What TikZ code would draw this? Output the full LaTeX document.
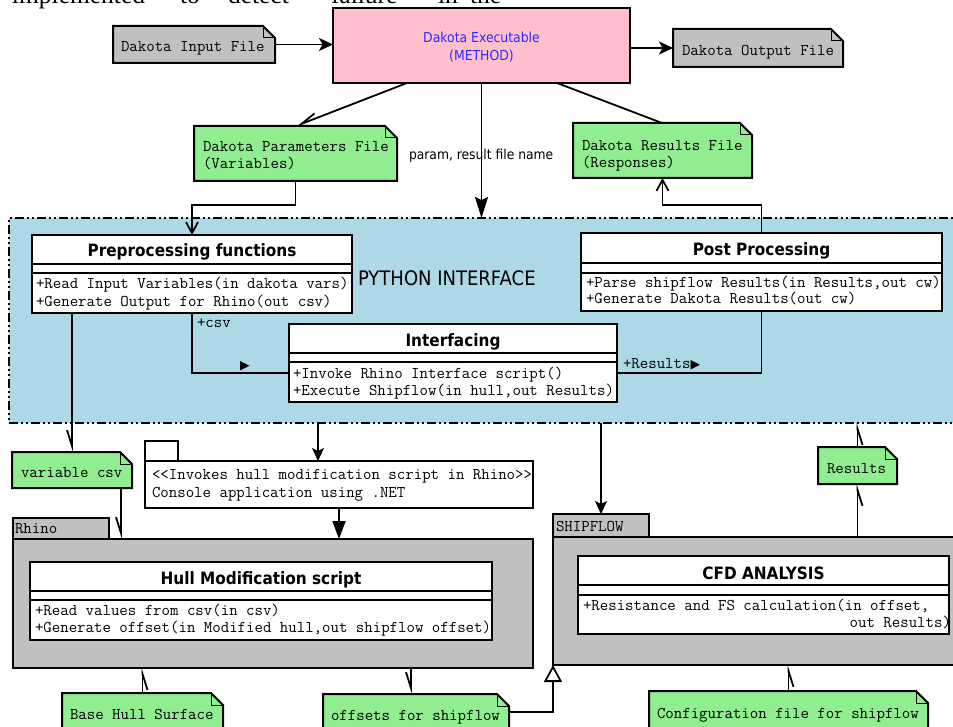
\documentclass[tikz,border=0pt]{standalone}
\usepackage{fontspec}
\usetikzlibrary{arrows.meta}
\newfontfamily\sansf{DejaVu Sans}[FakeStretch=0.9]
\newfontfamily\symf{DejaVu Sans}
\newfontfamily\serf{Liberation Serif}
\definecolor{pinkx}{HTML}{FFC0CB}
\definecolor{grayx}{HTML}{C0C0C0}
\definecolor{greenx}{HTML}{90EE90}
\definecolor{bluex}{HTML}{ADD8E6}
\definecolor{textblue}{HTML}{2B2BFF}
\tikzset{
 every node/.style={inner sep=0pt,outer sep=0pt},
 box/.style={draw=black,line width=2pt},
 cls/.style={box,fill=white},
 notebody/.style={fill=#1,draw=none},
 mono/.style={font=\ttfamily\fontsize{16.4}{19}\selectfont,anchor=base west},
 hdr/.style={font=\sansf\bfseries\fontsize{17}{20}\selectfont,anchor=base},
 serifw/.style={font=\serf\fontsize{25.5}{30}\selectfont,anchor=base west},
 conn/.style={draw=black,line width=1.8pt},
 solidar/.style={-{Stealth[length=14pt,width=13pt,inset=3.5pt]}},
 bigar/.style={-{Stealth[length=21pt,width=13pt,inset=3pt]}},
 smallar/.style={-{Stealth[length=13pt,width=12pt,inset=3pt]}},
 triar/.style={-{Triangle[length=18pt,width=13pt]}},
 openv/.style={-{Straight Barb[length=11pt,width=12pt]}},
 harp/.style={-{Straight Barb[harpoon,swap,length=16pt,width=10pt]}},
 inher/.style={-{Triangle[open,fill=white,length=17pt,width=18pt]}},
}
\newcommand\notefold[1]{%
 \fill[white] ([xshift=-12pt]#1.north east) -- (#1.north east) -- ([yshift=-12pt]#1.north east) -- cycle;
 \draw[line width=2pt] (#1.north west) -- ([xshift=-12pt]#1.north east) -- ([yshift=-12pt]#1.north east) -- (#1.south east) -- (#1.south west) -- cycle;
 \draw[line width=1pt] ([xshift=-12pt]#1.north east) -- ([xshift=-12pt,yshift=-12pt]#1.north east) -- ([yshift=-12pt]#1.north east);}
\begin{document}
\begin{tikzpicture}[x=1pt,y=-1pt,line join=miter]
\useasboundingbox (0,0) rectangle (953,727);
\clip (0,0) rectangle (953,727);
% cropped text line at the top
\node[serifw] (tl1) at (12,4) {implemented};
\node[serifw] (tl2) at (180,4) {to};
\node[serifw] (tl3) at (228,4) {detect};
\node[serifw] (tl4) at (331,4) {failure};
\node[serifw] (tl5) at (438,4) {in};
\node[serifw] (tl6) at (470,4) {the};

% python interface
\node[draw=black,line width=2pt,dash pattern=on 9pt off 3pt on 2pt off 3pt on 2pt off 3pt,fill=bluex,minimum width=961pt,minimum height=205pt] (py) at (489.5,320.5) {};
\node[font=\sansf\fontsize{20}{24}\selectfont,anchor=base west] (py-t) at (358,286) {PYTHON INTERFACE};

% dakota executable
\node[box,fill=pinkx,minimum width=297pt,minimum height=75pt] (exec) at (481.5,45.5) {};
\node[font=\sansf\fontsize{13.8}{16}\selectfont,text=textblue,anchor=base] (exec-t1) at (481.5,43) {Dakota Executable};
\node[font=\sansf\fontsize{13.8}{16}\selectfont,text=textblue,anchor=base] (exec-t2) at (481.5,61) {(METHOD)};

% notes at the top
\node[notebody=grayx,minimum width=162pt,minimum height=37pt] (inp) at (194,44.5) {}; \notefold{inp}
\node[mono] (inp-t) at (121,52) {Dakota Input File};
\node[notebody=grayx,minimum width=170pt,minimum height=38pt] (outp) at (758,48) {}; \notefold{outp}
\node[mono] (outp-t) at (682,56) {Dakota Output File};
\node[notebody=greenx,minimum width=203pt,minimum height=55pt] (par) at (295.5,153.5) {}; \notefold{par}
\node[mono] (par-t1) at (203,152) {Dakota Parameters File};
\node[mono] (par-t2) at (203,169) {(Variables)};
\node[notebody=greenx,minimum width=179pt,minimum height=55pt] (res) at (662.5,150.5) {}; \notefold{res}
\node[mono] (res-t1) at (582,150.5) {Dakota Results File};
\node[mono] (res-t2) at (582,167.5) {(Responses)};
\node[font=\sansf\fontsize{13.7}{16}\selectfont,anchor=base west] (plabel) at (409,160) {param, result file name};

% preprocessing class
\node[cls,minimum width=320pt,minimum height=29pt] (pp) at (192,249.5) {};
\node[cls,minimum width=320pt,minimum height=9pt] (ppa) at (192,268.5) {};
\node[cls,minimum width=320pt,minimum height=40pt] (ppm) at (192,293) {};
\node[hdr] (pp-t) at (192,257) {Preprocessing functions};
\node[mono] (ppm-t1) at (36,289) {+Read Input Variables(in dakota vars)};
\node[mono] (ppm-t2) at (36,306) {+Generate Output for Rhino(out csv)};

% post processing class
\node[cls,minimum width=361pt,minimum height=30pt] (post) at (761.5,248) {};
\node[cls,minimum width=361pt,minimum height=10pt] (posta) at (761.5,268) {};
\node[cls,minimum width=361pt,minimum height=38pt] (postm) at (761.5,292) {};
\node[hdr] (post-t) at (761.5,255.5) {Post Processing};
\node[mono] (postm-t1) at (586,287.5) {+Parse shipflow Results(in Results,out cw)};
\node[mono] (postm-t2) at (586,304) {+Generate Dakota Results(out cw)};

% interfacing class
\node[cls,minimum width=328pt,minimum height=29pt] (ifc) at (453,338.5) {};
\node[cls,minimum width=328pt,minimum height=9pt] (ifca) at (453,357.5) {};
\node[cls,minimum width=328pt,minimum height=40pt] (ifcm) at (453,382) {};
\node[hdr] (ifc-t) at (453,346.5) {Interfacing};
\node[mono] (ifcm-t1) at (293,378) {+Invoke Rhino Interface script()};
\node[mono] (ifcm-t2) at (293,395) {+Execute Shipflow(in hull,out Results)};

% variable csv note
\node[notebody=greenx,minimum width=120pt,minimum height=36pt] (var) at (72,470) {}; \notefold{var}
\node[mono] (var-t) at (21,477) {variable csv};

% invokes note (package-like)
\node[cls,minimum width=33pt,minimum height=20pt] (invtab) at (161.5,451) {};
\node[cls,minimum width=388pt,minimum height=47pt] (inv) at (339,484.5) {};
\node[mono] (inv-t1) at (152,479) {<<Invokes hull modification script in Rhino>>};
\node[mono] (inv-t2) at (152,497) {Console application using .NET};

% Rhino package
\node[box,fill=grayx,minimum width=96pt,minimum height=21pt] (rhtab) at (61,528.5) {};
\node[box,fill=grayx,minimum width=520pt,minimum height=129pt] (rh) at (273,603.5) {};
\node[mono] (rhtab-t) at (15,533) {Rhino};
\node[cls,minimum width=462pt,minimum height=29pt] (hull) at (261,576.5) {};
\node[cls,minimum width=462pt,minimum height=9pt] (hulla) at (261,595.5) {};
\node[cls,minimum width=462pt,minimum height=40pt] (hullm) at (261,620) {};
\node[hdr] (hull-t) at (261,584) {Hull Modification script};
\node[mono] (hullm-t1) at (35,615) {+Read values from csv(in csv)};
\node[mono] (hullm-t2) at (35,632) {+Generate offset(in Modified hull,out shipflow offset)};

% SHIPFLOW package
\node[box,fill=grayx,minimum width=96pt,minimum height=23pt] (sftab) at (601,525.5) {};
\node[box,fill=grayx,minimum width=417pt,minimum height=128pt] (sf) at (761.5,601) {};
\node[mono] (sftab-t) at (556,531) {SHIPFLOW};
\node[cls,minimum width=371pt,minimum height=29pt] (cfd) at (763.5,570.5) {};
\node[cls,minimum width=371pt,minimum height=10pt] (cfda) at (763.5,590) {};
\node[cls,minimum width=371pt,minimum height=39pt] (cfdm) at (763.5,614.5) {};
\node[hdr] (cfd-t) at (763.5,579) {CFD ANALYSIS};
\node[mono] (cfdm-t1) at (583,610) {+Resistance and FS calculation(in offset,};
\node[mono,anchor=base east] (cfdm-t2) at (951,627) {out Results)};

% Results note
\node[notebody=greenx,minimum width=79pt,minimum height=37pt] (rn) at (857.5,465.5) {}; \notefold{rn}
\node[mono] (rn-t) at (827,473) {Results};

% bottom notes
\node[notebody=greenx,minimum width=161pt,minimum height=38pt] (bh) at (142.5,712) {}; \notefold{bh}
\node[mono] (bh-t) at (70,719) {Base Hull Surface};
\node[notebody=greenx,minimum width=186pt,minimum height=36pt] (off) at (416,712) {}; \notefold{off}
\node[mono] (off-t) at (331,720) {offsets for shipflow};
\node[notebody=greenx,minimum width=279pt,minimum height=40pt] (cf) at (788.5,711) {}; \notefold{cf}
\node[mono] (cf-t) at (657,718) {Configuration file for shipflow};

% connector labels
\node[mono] (lab-csv) at (197,327) {+csv};
\node[font=\symf\fontsize{12.5}{12}\selectfont,anchor=base west] (lab-tri) at (240,369) {▶};
\node[mono] (lab-res) at (623,368) {+Results{\symf\fontsize{12.5}{12}\selectfont\raisebox{-0.5pt}{▶}}};

% connectors
\draw[conn,solidar] (inp.east) -- (inp.east -| exec.west);
\draw[conn,solidar] (exec.east |- outp.west) -- (outp.west);
\draw[conn,harp] ([xshift=74pt]exec.south west) -- ([xshift=102pt]par.north west);
\draw[conn] ([xshift=224pt]exec.south west) -- ([xshift=89pt]res.north west);
\draw[conn,bigar] (exec.south) -- (exec.south |- py.north);
\draw[conn,openv] (par.south) -- ++(0,24) -| (pp.north);
\draw[conn,openv] (post.north) -- ++(0,-28) -| (res.south);
\draw[conn] (ppm.south) |- ([yshift=9pt]ifcm.west);
\draw[conn] (postm.south) |- ([yshift=9pt]ifcm.east);
\draw[conn,harp] (var.north |- ppm.south) -- (var.north);
\coordinate (c-var) at ([xshift=-11pt]var.south east);
\draw[conn,harp] (c-var) -- (c-var |- rh.north);
\coordinate (c-inv) at ([xshift=173pt]inv.north west);
\draw[conn,smallar] (c-inv |- py.south) -- (c-inv);
\draw[conn,triar] (inv.south) -- (inv.south |- rh.north);
\draw[conn,smallar] (sftab.north |- py.south) -- (sftab.north);
\draw[conn,harp] (rn.south |- sf.north) -- (rn.south);
\draw[conn,harp] (rn.north) -- (rn.north |- py.south);
\draw[conn,harp] (bh.north) -- (bh.north |- rh.south);
\coordinate (c-off) at ([xshift=88pt]off.north west);
\draw[conn,harp] (c-off |- rh.south) -- (c-off);
\draw[conn,inher] (off.east) -| (sf.south west);
\draw[conn,harp] (cf.north) -- (cf.north |- sf.south);
\end{tikzpicture}
\end{document}
